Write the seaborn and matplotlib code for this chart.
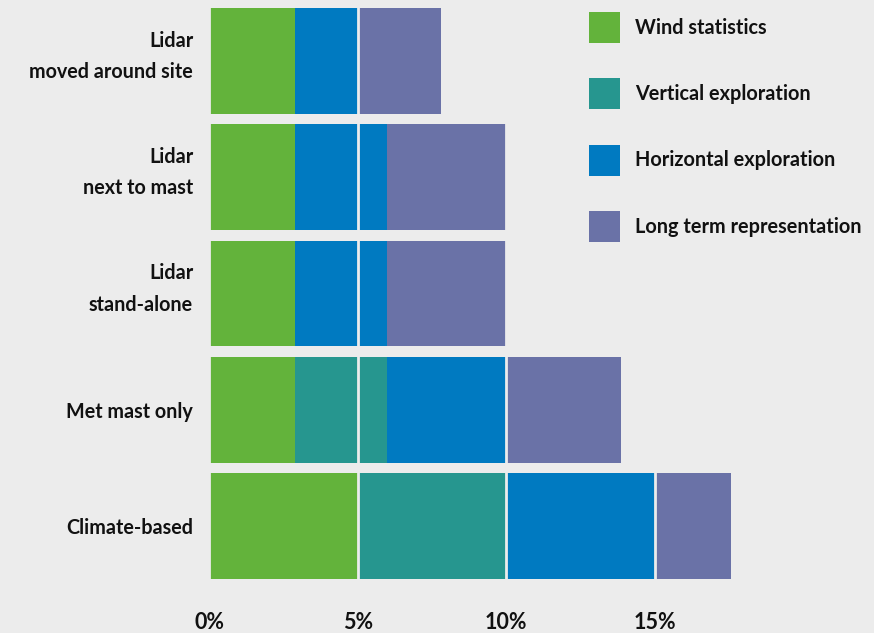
import matplotlib
matplotlib.use("Agg")
import matplotlib.pyplot as plt
import matplotlib.transforms as mtransforms
from matplotlib.patches import Patch
import numpy as np
import pandas as pd
import seaborn as sns

# Share of uncertainty (%) by source, for each measurement campaign
campaigns = [
    "Lidar\nmoved around site",
    "Lidar\nnext to mast",
    "Lidar\nstand-alone",
    "Met mast only",
    "Climate-based",
]
wind_statistics = [2.9, 2.9, 2.9, 2.9, 5.0]
vertical_exploration = [0.0, 0.0, 0.0, 3.1, 5.0]
horizontal_exploration = [2.1, 3.1, 3.1, 4.0, 5.0]
long_term_representation = [2.8, 4.0, 4.0, 3.85, 2.55]

components = ["Wind statistics", "Vertical exploration",
              "Horizontal exploration", "Long term representation"]
colors = ["#63b33b", "#26968f", "#007ac1", "#6a72a7"]
tick_values = [0, 5, 10, 15]
tick_labels = ["0%", "5%", "10%", "15%"]

bg = "#ececec"
ink = "#111111"

df = pd.DataFrame({
    "campaign": campaigns,
    components[0]: wind_statistics,
    components[1]: vertical_exploration,
    components[2]: horizontal_exploration,
    components[3]: long_term_representation,
})
# cumulative ends of each stacked segment
cum = df[components].cumsum(axis=1)

sns.set_theme(style="white")
plt.rcParams["font.family"] = ["Lato", "DejaVu Sans"]

fig = plt.figure(figsize=(8.74, 6.33), dpi=100, facecolor=bg)
ax = fig.add_axes([209.1 / 874, 49 / 633, 535 / 874, 581 / 633])
ax.set_facecolor(bg)

# draw the longest cumulative bar first so shorter ones sit on top
for comp, col in reversed(list(zip(components, colors))):
    sns.barplot(x=cum[comp], y=df["campaign"], orient="h", color=col,
                width=0.91, saturation=1, ax=ax, linewidth=0)

ax.set_xlim(0, 18)
ax.set_xticks(tick_values)
ax.set_xticklabels(tick_labels, fontsize=15.5, fontweight="bold", color=ink)
ax.set_xlabel("")
ax.set_ylabel("")

ax.tick_params(axis="x", length=0, pad=20)
ax.tick_params(axis="y", length=0, pad=11.5)

for lbl in ax.get_yticklabels():
    lbl.set_fontsize(14.2)
    lbl.set_fontweight("bold")
    lbl.set_color(ink)
    lbl.set_linespacing(1.70)
    lbl.set_horizontalalignment("right")
    lbl.set_multialignment("right")
    lbl.set_verticalalignment("center")
    # two-line labels sit a little above the bar centre, single-line a little below
    dy = 4.5 if "\n" in lbl.get_text() else -2.5
    lbl.set_transform(lbl.get_transform() +
                      mtransforms.ScaledTranslation(0, dy / 100, fig.dpi_scale_trans))

# background-coloured grid lines cut through the bars
ax.set_axisbelow(False)
ax.grid(axis="x", color=bg, linewidth=2.0)
ax.grid(axis="y", visible=False)
for s in ax.spines.values():
    s.set_visible(False)

handles = [Patch(facecolor=c, edgecolor="none", label=n)
           for n, c in zip(components, colors)]
leg = fig.legend(handles=handles, loc="upper left",
                 bbox_to_anchor=(589 / 874, 1 - 12 / 633),
                 bbox_transform=fig.transFigure, frameon=False,
                 prop={"weight": "bold", "size": 14.3},
                 handlelength=1.56, handleheight=2.02,
                 labelspacing=1.78, handletextpad=0.755, borderpad=0,
                 borderaxespad=0)
for t in leg.get_texts():
    t.set_color(ink)

fig.savefig("out.png", dpi=100, facecolor=bg)
